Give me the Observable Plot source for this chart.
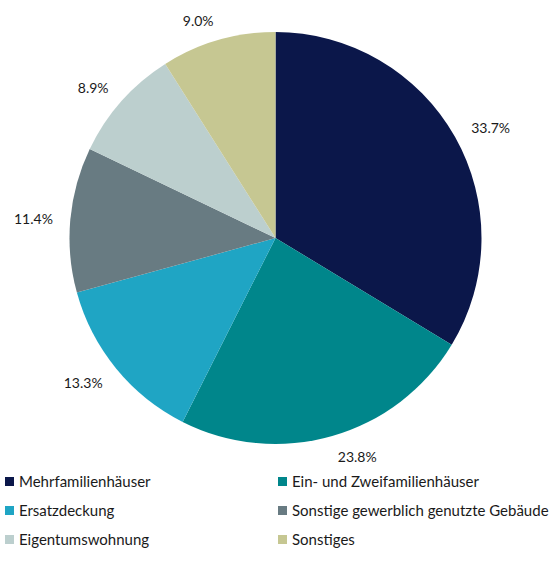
<!DOCTYPE html>
<html>
<head>
<meta charset="utf-8">
<script src="https://cdn.jsdelivr.net/npm/d3@7"></script>
<script src="https://cdn.jsdelivr.net/npm/@observablehq/plot@0.6"></script>
<style>
  body { margin: 0; background: #fff; font-family: Lato, "Open Sans", sans-serif; }
  #chart svg { display: block; overflow: visible; }
  .legend { display: grid; grid-template-columns: 278px 275px; font-size: 15px; color: #1a1a1a; }
  .legend .item { height: 29px; line-height: 29px; display: flex; align-items: center; white-space: nowrap; }
  .legend .item:nth-child(odd) { padding-left: 5px; }
  .legend .sw { width: 9px; height: 9px; margin-right: 5px; flex: none; }
</style>
</head>
<body>
<div id="chart"></div>
<div class="legend" id="legend"></div>
<script>
const categories = ["Mehrfamilienhäuser", "Ein- und Zweifamilienhäuser", "Ersatzdeckung", "Sonstige gewerblich genutzte Gebäude", "Eigentumswohnung", "Sonstiges"];
const values = [33.7, 23.8, 13.3, 11.4, 8.9, 9.0];
const labels = ["33.7%", "23.8%", "13.3%", "11.4%", "8.9%", "9.0%"];
const colors = ["#0B174A", "#00868B", "#1FA5C4", "#687B82", "#BCCFCE", "#C6C792"];

const data = categories.map((c, i) => ({category: c, value: values[i], label: labels[i]}));
const arcs = d3.pie().sort(null).value(d => d.value)(data);
const slices = arcs.map(a => ({...a.data, startAngle: a.startAngle, endAngle: a.endAngle, mid: (a.startAngle + a.endAngle) / 2}));

// outside-end labels: anchor point just beyond the rim, text extends away from the pie
const R = 206;          // pie radius in px (x scale: 1 unit = R px)
const gap = 18;         // px beyond the rim
const lx = d => ((R + gap) * Math.sin(d.mid)) / R;
const ly = d => ((R + gap) * Math.cos(d.mid) + (Math.cos(d.mid) * 3 - 1)) / R;

const pieMark = (index, scales, values, dimensions, context) => {
  const cx = scales.x(0), cy = scales.y(0);
  const r = scales.x(1) - scales.x(0);
  const arc = d3.arc().innerRadius(0).outerRadius(r);
  const g = d3.create("svg:g").attr("transform", `translate(${cx},${cy})`);
  g.selectAll("path").data(slices).join("path")
    .attr("d", d => arc(d))
    .attr("fill", d => scales.color(d.category));
  return g.node();
};

const textOpts = {x: lx, y: ly, text: "label", fontSize: 14, fill: "#1a1a1a"};

const plot = Plot.plot({
  width: 553,
  height: 467,
  marginLeft: 69.5,
  marginRight: 71.5,
  marginTop: 32,
  marginBottom: 23,
  x: {domain: [-1, 1], axis: null},
  y: {domain: [-1, 1], axis: null},
  color: {domain: categories, range: colors},
  style: {fontFamily: "Lato, 'Open Sans', sans-serif", background: "white"},
  marks: [
    Plot.dot(slices, {x: 0, y: 0, r: 0, fill: "category"}),
    pieMark,
    Plot.text(slices.filter(d => Math.sin(d.mid) >= 0), {...textOpts, textAnchor: "start"}),
    Plot.text(slices.filter(d => Math.sin(d.mid) < 0), {...textOpts, textAnchor: "end"})
  ]
});
document.getElementById("chart").appendChild(plot);

const legend = document.getElementById("legend");
categories.forEach((c, i) => {
  const item = document.createElement("div");
  item.className = "item";
  const sw = document.createElement("span");
  sw.className = "sw";
  sw.style.background = plot.scale("color").apply(c);
  item.appendChild(sw);
  item.appendChild(document.createTextNode(c));
  legend.appendChild(item);
});
</script>
</body>
</html>
